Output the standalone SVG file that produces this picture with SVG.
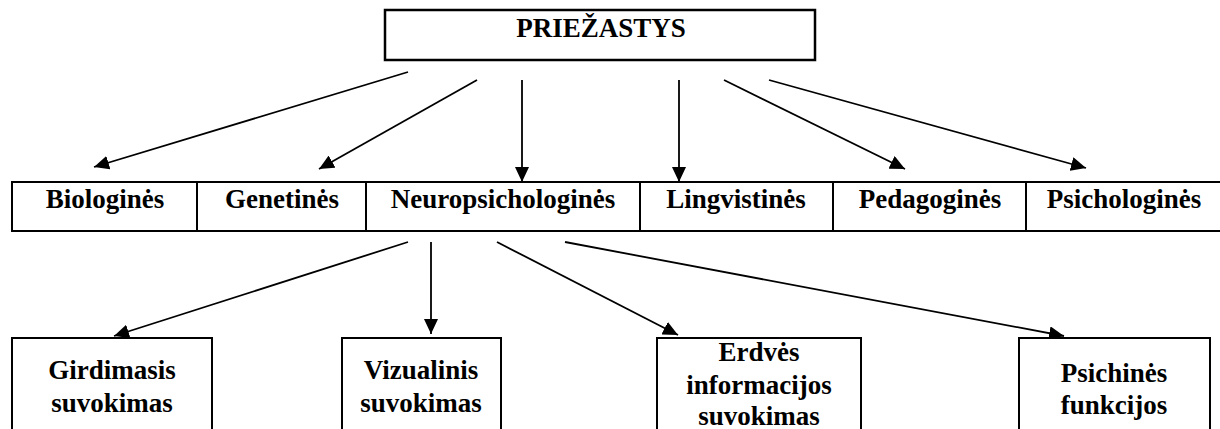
<svg xmlns="http://www.w3.org/2000/svg" width="1220" height="429" viewBox="0 0 1220 429">
<style>
.box{fill:#fff;stroke:#000;stroke-width:2}
.t{font-family:"Liberation Serif","Times New Roman",serif;font-weight:bold;font-size:27px;fill:#000;text-anchor:middle}
.c{stroke:#000;stroke-width:1.8;fill:none;marker-end:url(#ah)}
</style>
<defs>
<marker id="ah" markerUnits="userSpaceOnUse" markerWidth="16" markerHeight="14" refX="15" refY="7" orient="auto">
<path d="M0,0 L15,7 L0,14 z" fill="#000"/>
</marker>
</defs>
<rect width="1220" height="429" fill="#fff"/>
<g id="connectors">
<line class="c" x1="408" y1="72" x2="94" y2="167"/>
<line class="c" x1="477" y1="80" x2="319" y2="169"/>
<line class="c" x1="522" y1="80" x2="522" y2="182"/>
<line class="c" x1="679" y1="80" x2="679" y2="182"/>
<line class="c" x1="724" y1="80" x2="905" y2="169"/>
<line class="c" x1="769" y1="80" x2="1086" y2="168"/>
<line class="c" x1="408" y1="242" x2="114" y2="336"/>
<line class="c" x1="431" y1="242" x2="431" y2="334"/>
<line class="c" x1="497" y1="242" x2="678" y2="335"/>
<line class="c" x1="565" y1="242" x2="1064" y2="336"/>
</g>
<g id="n-priezastys">
<rect class="box" x="385" y="10" width="430" height="50" style="stroke-width:2.5"/>
<text class="t" x="601" y="37">PRIEŽASTYS</text>
</g>
<g id="row">
<path d="M1222,182 H12 V231 H1222" fill="#fff" stroke="#000" stroke-width="2"/>
<path d="M197,182 V231 M366,182 V231 M640,182 V231 M833,182 V231 M1026,182 V231" stroke="#000" stroke-width="2"/>
</g>
<g id="n-biologines"><text class="t" x="105" y="208">Biologinės</text></g>
<g id="n-genetines"><text class="t" x="282" y="208">Genetinės</text></g>
<g id="n-neuropsichologines"><text class="t" x="503" y="208">Neuropsichologinės</text></g>
<g id="n-lingvistines"><text class="t" x="736" y="208">Lingvistinės</text></g>
<g id="n-pedagogines"><text class="t" x="930" y="208">Pedagoginės</text></g>
<g id="n-psichologines"><text class="t" x="1124" y="208">Psichologinės</text></g>
<g id="n-girdimasis">
<rect class="box" x="12" y="338" width="200" height="100"/>
<text class="t" x="112" y="379">Girdimasis</text>
<text class="t" x="112" y="412">suvokimas</text>
</g>
<g id="n-vizualinis">
<rect class="box" x="342" y="338" width="159" height="100"/>
<text class="t" x="421" y="379">Vizualinis</text>
<text class="t" x="421" y="412">suvokimas</text>
</g>
<g id="n-erdves">
<rect class="box" x="657" y="338" width="204" height="100"/>
<text class="t" x="759" y="361">Erdvės</text>
<text class="t" x="759" y="394">informacijos</text>
<text class="t" x="759" y="425">suvokimas</text>
</g>
<g id="n-psichines">
<rect class="box" x="1019" y="338" width="191" height="100"/>
<text class="t" x="1114" y="382">Psichinės</text>
<text class="t" x="1114" y="414">funkcijos</text>
</g>
</svg>
